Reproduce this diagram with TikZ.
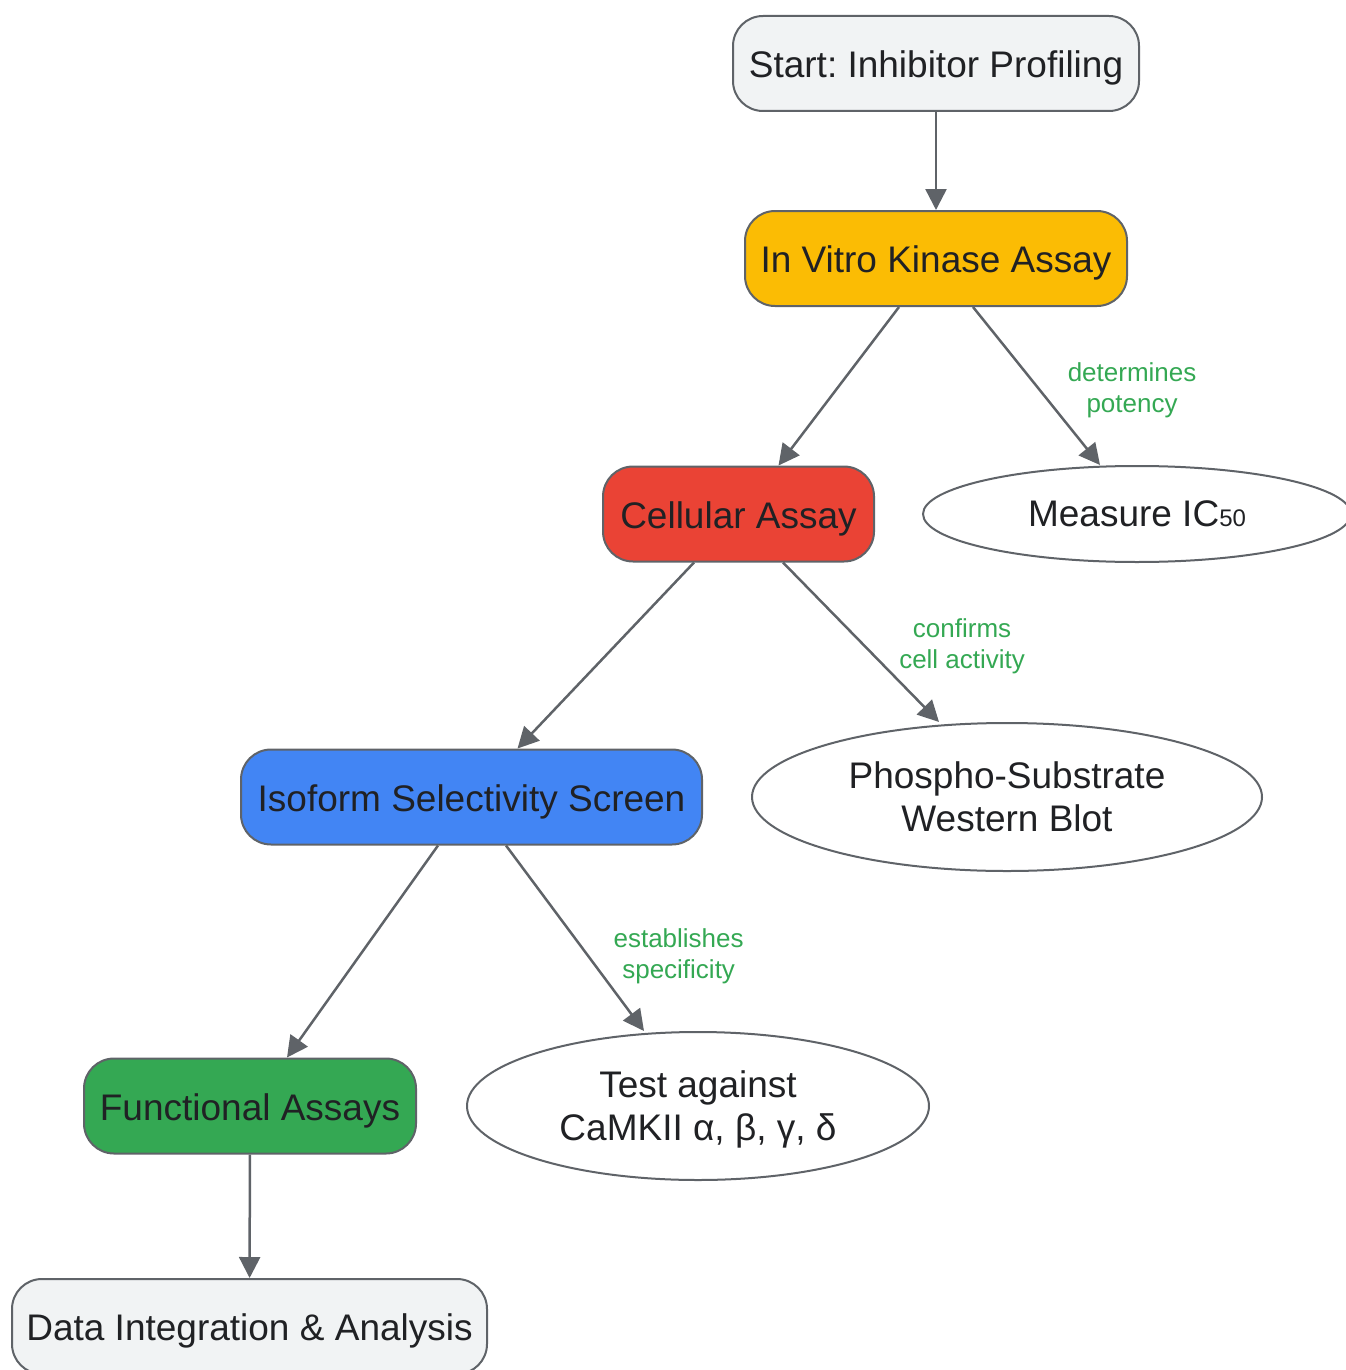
\documentclass[tikz,border=0pt]{standalone}
\usepackage{fontspec}
\setmainfont{Liberation Sans}
\usetikzlibrary{arrows.meta, positioning, shapes.geometric}
\definecolor{edgegray}{HTML}{5F6368}
\definecolor{textdark}{HTML}{202124}
\definecolor{labelgreen}{HTML}{34A853}
\definecolor{stepgray}{HTML}{F1F3F4}
\definecolor{vitroyellow}{HTML}{FBBC04}
\definecolor{cellred}{HTML}{EA4335}
\definecolor{isoblue}{HTML}{4285F4}
\definecolor{funcgreen}{HTML}{34A853}
\frenchspacing
\tikzset{
  stepbox/.style = {draw=edgegray, line width=2pt, rounded corners=30pt, minimum height=95pt, inner sep=0, text height=37pt, text depth=9pt, text=textdark, font=\fontsize{37}{43}\selectfont},
  readout/.style = {ellipse, draw=edgegray, line width=2pt, fill=white, inner sep=0, align=center, text=textdark, font=\fontsize{37}{43}\selectfont},
  link/.style = {draw=edgegray, line width=2.5pt, -{Triangle[length=21pt, width=21pt]}},
  linklabel/.style = {inner sep=0, align=center, text=labelgreen, font=\fontsize{26}{31}\selectfont},
}

\begin{document}
\begin{tikzpicture}[x=1pt, y=-1pt]
        \useasboundingbox (0,0) rectangle (1345,1370);
        % steps of the profiling, top to bottom
        \node (start) [stepbox, fill=stepgray, minimum width=406pt] at (936,63.5) {Start: Inhibitor Profiling};
        \node (vitro) [stepbox, fill=vitroyellow, minimum width=382pt] at (936,258.5) {In Vitro Kinase Assay};
        \node (cell) [stepbox, fill=cellred, minimum width=271pt] at (738.5,514) {Cellular Assay};
        \node (iso) [stepbox, fill=isoblue, minimum width=461pt] at (471.5,797) {Isoform Selectivity Screen};
        \node (func) [stepbox, fill=funcgreen, minimum width=332pt] at (250,1106) {Functional Assays};
        \node (data) [stepbox, fill=stepgray, minimum width=475pt] at (249.5,1326.5) {Data Integration \& Analysis};

        % readout beside each step
        \node (ic) [readout, minimum width=428pt, minimum height=96pt, right=47pt of cell] {Measure IC{\fontsize{24}{28}\selectfont 50}};
        \node (blot) [readout, minimum width=510pt, minimum height=148pt, right=48pt of iso] {Phospho-Substrate\\Western Blot};
        \node (panel) [readout, minimum width=462pt, minimum height=148pt, text depth=0pt, right=49pt of func] {Test against\\CaMKII α, β, γ, δ};

        \draw [link] (start) -- (vitro);
        \draw [link] ([xshift=-37pt]vitro.south) -- ([xshift=40pt]cell.north);
        \draw [link] ([xshift=37pt]vitro.south) -- node [linklabel, right=30pt, yshift=-4pt] {determines\\potency} ([xshift=-37pt]ic.north);
        \draw [link] ([xshift=-44.5pt]cell.south) -- ([xshift=46pt]iso.north);
        \draw [link] ([xshift=44.5pt]cell.south) -- node [linklabel, right=37pt, yshift=-4pt] {confirms\\cell activity} ([xshift=-68pt]blot.north);
        \draw [link] ([xshift=-33.5pt]iso.south) -- ([xshift=37pt]func.north);
        \draw [link] ([xshift=34.5pt]iso.south) -- node [linklabel, pos=0.575, right=27pt, yshift=-4pt] {establishes\\specificity} ([xshift=-54pt]panel.north);
        \draw [link] (func) -- (data);
      \end{tikzpicture}
\end{document}
